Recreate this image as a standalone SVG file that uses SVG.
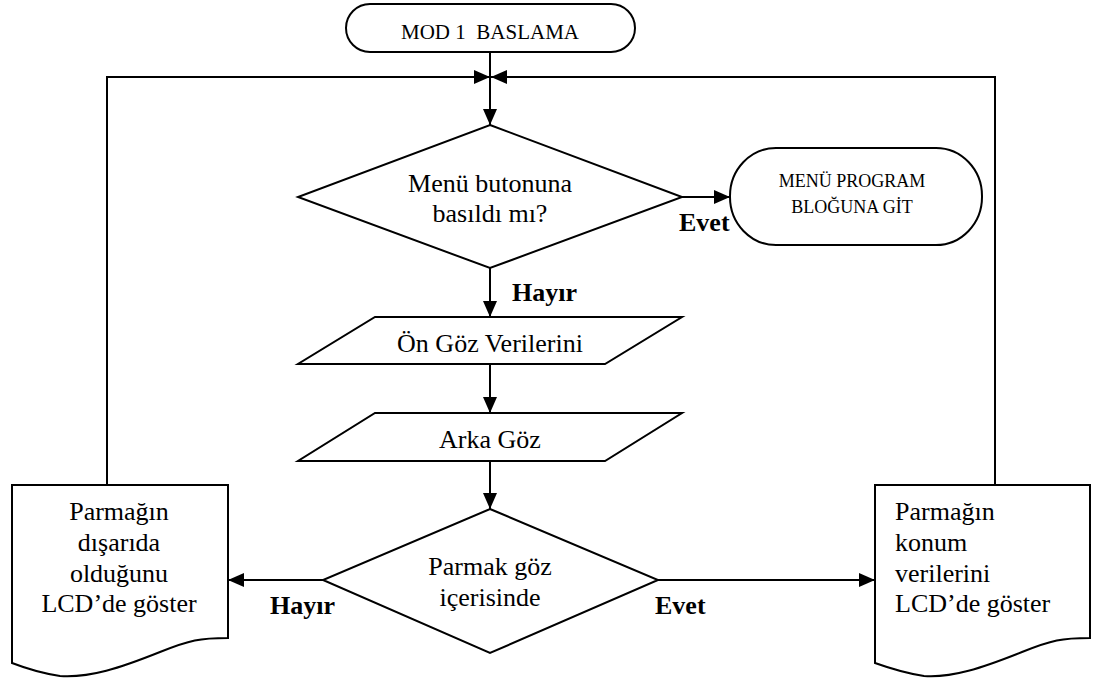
<svg xmlns="http://www.w3.org/2000/svg" width="1093" height="678" viewBox="0 0 1093 678" font-family="'Liberation Serif', 'Times New Roman', Times, 'DejaVu Serif', serif">
<style>
.s{fill:#fff;stroke:#000;stroke-width:2}
.c{fill:none;stroke:#000;stroke-width:2}
text{font-family:'Liberation Serif','Times New Roman',Times,'DejaVu Serif',serif;fill:#000}
.t{font-size:26px;text-anchor:middle}
.l{font-size:26px}
.b{font-size:26px;font-weight:bold}
.sm{font-size:21px;text-anchor:middle}
.m{font-size:18px;text-anchor:middle}
</style>
<defs>
<marker id="a" markerWidth="16" markerHeight="14" refX="16" refY="7" orient="auto" markerUnits="userSpaceOnUse">
<path d="M0,0 L16,7 L0,14 Z" fill="#000"/>
</marker>
</defs>
<rect width="1093" height="678" fill="#fff"/>
<g id="connectors">
<path class="c" d="M490,52 V125" marker-end="url(#a)"/>
<path class="c" d="M107,485 V77 H490" marker-end="url(#a)"/>
<path class="c" d="M995,485 V77 H491" marker-end="url(#a)"/>
<path class="c" d="M682,197 H730" marker-end="url(#a)"/>
<path class="c" d="M490,268 V317" marker-end="url(#a)"/>
<path class="c" d="M490,364 V413" marker-end="url(#a)"/>
<path class="c" d="M490,461 V509" marker-end="url(#a)"/>
<path class="c" d="M323,580 H228" marker-end="url(#a)"/>
<path class="c" d="M658,580 H875" marker-end="url(#a)"/>
<text class="b" x="679" y="231">Evet</text>
<text class="b" x="512" y="301">Hayır</text>
<text class="b" x="270" y="614">Hayır</text>
<text class="b" x="655" y="614">Evet</text>
</g>
<g id="start">
<rect class="s" x="346" y="4" width="289" height="48" rx="24" ry="24"/>
<text class="sm" x="490" y="39" xml:space="preserve">MOD 1  BASLAMA</text>
</g>
<g id="menu-decision">
<path class="s" d="M490,125 L682,197 L490,268 L298,197 Z"/>
<text class="t" x="490" y="192">Menü butonuna</text>
<text class="t" x="490" y="222">basıldı mı?</text>
</g>
<g id="menu-program">
<rect class="s" x="730" y="148" width="252" height="97" rx="46" ry="48"/>
<text class="m" x="852" y="187">MENÜ PROGRAM</text>
<text class="m" x="852" y="213">BLOĞUNA GİT</text>
</g>
<g id="on-goz">
<path class="s" d="M375,317 H682 L605,364 H298 Z"/>
<text class="t" x="490" y="352">Ön Göz Verilerini</text>
</g>
<g id="arka-goz">
<path class="s" d="M375,413 H682 L605,461 H298 Z"/>
<text class="t" x="490" y="448">Arka Göz</text>
</g>
<g id="parmak-decision">
<path class="s" d="M490,509 L658,580 L490,653 L323,580 Z"/>
<text class="t" x="490" y="575">Parmak göz</text>
<text class="t" x="490" y="606">içerisinde</text>
</g>
<g id="doc-left">
<path class="s" d="M12,485 H228 V638 C200,638 190,640 160,652 C120,668 90,678 60,676 C40,673 25,668 12,663 Z"/>
<text class="t" x="119" y="520">Parmağın</text>
<text class="t" x="119" y="551">dışarıda</text>
<text class="t" x="119" y="582">olduğunu</text>
<text class="t" x="119" y="612">LCD’de göster</text>
</g>
<g id="doc-right">
<path class="s" d="M875,485 H1090 V638 C1062,638 1052,640 1022,652 C982,668 952,678 924,676 C904,673 889,668 875,663 Z"/>
<text class="l" x="895" y="520">Parmağın</text>
<text class="l" x="895" y="551">konum</text>
<text class="l" x="895" y="582">verilerini</text>
<text class="l" x="895" y="612">LCD’de göster</text>
</g>
</svg>
